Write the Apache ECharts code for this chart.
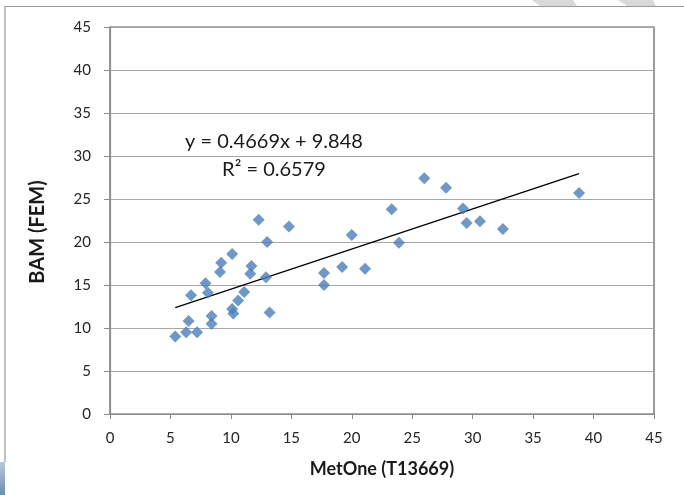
<!DOCTYPE html>
<html>
<head>
<meta charset="utf-8">
<script src="https://cdn.jsdelivr.net/npm/echarts@6/dist/echarts.min.js"></script>
<style>
html,body{margin:0;padding:0;background:#fff;}
#chart{width:684px;height:495px;}
</style>
</head>
<body>
<div id="chart"></div>
<script>
// MetOne (T13669) values
const xVals = [5.4, 6.3, 7.2, 6.5, 6.7, 7.9, 8.1, 8.4, 8.4, 9.1, 9.2, 10.1, 10.1, 10.2, 10.6, 11.1, 11.6, 11.7, 12.3, 12.9, 13.0, 13.2, 14.8, 17.7, 17.7, 19.2, 20.0, 21.1, 23.3, 23.9, 26.0, 27.8, 29.2, 29.5, 30.6, 32.5, 38.8];
// BAM (FEM) values
const yVals = [9.0, 9.5, 9.5, 10.8, 13.8, 15.2, 14.1, 11.4, 10.5, 16.5, 17.6, 18.6, 12.2, 11.7, 13.2, 14.2, 16.3, 17.2, 22.6, 15.9, 20.0, 11.8, 21.8, 16.4, 15.0, 17.1, 20.8, 16.9, 23.8, 19.9, 27.4, 26.3, 23.9, 22.2, 22.4, 21.5, 25.7];
// linear trendline endpoints (y = 0.4669x + 9.848)
const trendX = [5.4, 38.8];
const trendY = [12.37, 27.96];
const xTicks = [0, 5, 10, 15, 20, 25, 30, 35, 40, 45];
const yTicks = [0, 5, 10, 15, 20, 25, 30, 35, 40, 45];
const eqLine1 = 'y = 0.4669x + 9.848';
const eqLine2 = 'R² = 0.6579';
const xTitle = 'MetOne (T13669)';
const yTitle = 'BAM (FEM)';

const points = xVals.map((x, i) => [x, yVals[i]]);
const trend = trendX.map((x, i) => [x, trendY[i]]);
const FONT = 'Lato, "Open Sans", sans-serif';

const chart = echarts.init(document.getElementById('chart'), null, {renderer: 'canvas'});
chart.setOption({
  animation: false,
  backgroundColor: '#ffffff',
  grid: {
    left: 110, right: 30, top: 27, bottom: 81,
    show: true, borderColor: '#5a5a5a', borderWidth: 1.2, backgroundColor: 'transparent'
  },
  xAxis: {
    type: 'value', min: xTicks[0], max: xTicks[xTicks.length - 1], interval: 5,
    axisLine: {show: true, onZero: false, lineStyle: {color: '#8c8c8c', width: 1.2}},
    axisTick: {show: true, length: 5, lineStyle: {color: '#8c8c8c'}},
    splitLine: {show: false},
    axisLabel: {fontSize: 15, color: '#262626', margin: 17, fontFamily: FONT},
    name: xTitle, nameLocation: 'middle', nameGap: 46,
    nameTextStyle: {fontSize: 18, fontWeight: 'bold', color: '#1a1a1a', fontFamily: FONT}
  },
  yAxis: {
    type: 'value', min: yTicks[0], max: yTicks[yTicks.length - 1], interval: 5,
    axisLine: {show: true, onZero: false, lineStyle: {color: '#8c8c8c', width: 1.2}},
    axisTick: {show: true, length: 6, lineStyle: {color: '#8c8c8c'}},
    splitLine: {show: true, lineStyle: {color: '#a6a6a6', width: 1}},
    axisLabel: {fontSize: 15, color: '#262626', margin: 19, fontFamily: FONT}
  },
  series: [
    {
      type: 'line', data: trend, symbol: 'none', silent: true,
      lineStyle: {color: '#000000', width: 1.3}, z: 3
    },
    {
      type: 'scatter', data: points, symbol: 'diamond', symbolSize: 12,
      itemStyle: {color: '#4a7ebb'}, z: 4
    }
  ],
  graphic: [
    {type: 'polyline', shape: {points: [[5, 462], [5, 6.5], [684, 6.5]]},
     style: {stroke: '#9a9a9a', lineWidth: 1.2, fill: null}, silent: true},
    {type: 'rect', shape: {x: 0, y: 462, width: 5, height: 33},
     style: {fill: new echarts.graphic.LinearGradient(0, 0, 0, 1, [{offset: 0, color: '#b8c8d8'}, {offset: 1, color: '#6d8eb0'}])}, silent: true},
    {type: 'polygon', shape: {points: [[532, 0], [573, 0], [577, 6], [540, 6]]},
     style: {fill: '#d9d9d9'}, silent: true},
    {type: 'polygon', shape: {points: [[618, 0], [653, 0], [656, 6], [627, 6]]},
     style: {fill: '#d9d9d9'}, silent: true},
    {type: 'text', x: 274, y: 142,
     style: {text: eqLine1, fontSize: 20, fill: '#1a1a1a', fontFamily: FONT, textAlign: 'center', textVerticalAlign: 'middle'}},
    {type: 'text', x: 274, y: 170,
     style: {text: eqLine2, fontSize: 20, fill: '#1a1a1a', fontFamily: FONT, textAlign: 'center', textVerticalAlign: 'middle'}},
    {type: 'text', x: 38, y: 232, rotation: Math.PI / 2,
     style: {text: yTitle, fontSize: 20, fontWeight: 'bold', fill: '#1a1a1a', fontFamily: FONT, textAlign: 'center', textVerticalAlign: 'middle'}}
  ]
});
</script>
</body>
</html>
